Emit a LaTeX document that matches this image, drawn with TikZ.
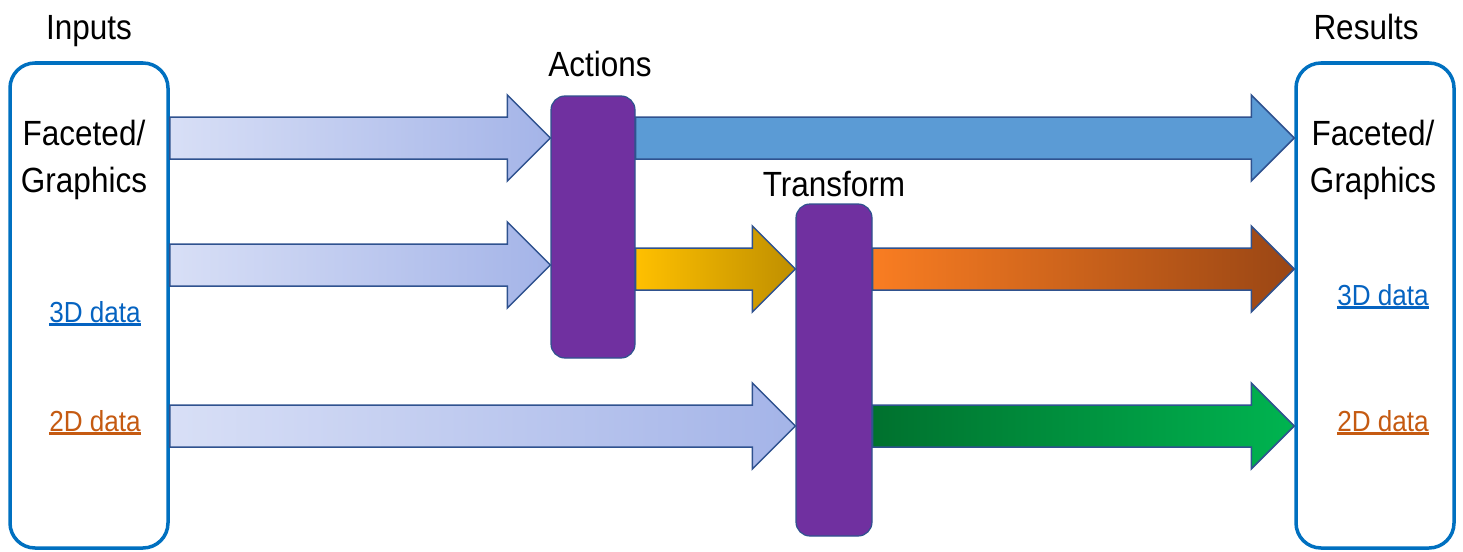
\documentclass[tikz,border=0pt]{standalone}
\usepackage{fontspec}
\setmainfont{Liberation Sans}[FakeStretch=0.9]
\usepackage{tikz}
\usetikzlibrary{positioning,calc}

\definecolor{boxblue}{HTML}{0070C0}
\definecolor{edgeblue}{HTML}{2F528F}
\definecolor{purp}{HTML}{7030A0}
\definecolor{linkblue}{HTML}{0563C1}
\definecolor{linkorange}{HTML}{C55A11}
\definecolor{inlight}{HTML}{D8DFF6}
\definecolor{indark}{HTML}{A4B4E8}
\definecolor{skyblue}{HTML}{5B9BD5}
\definecolor{goldl}{HTML}{FFC000}
\definecolor{goldd}{HTML}{BF8F00}
\definecolor{orl}{HTML}{F97D22}
\definecolor{ord}{HTML}{9A4614}
\definecolor{grl}{HTML}{00712E}
\definecolor{grd}{HTML}{00B450}

\newcommand{\ulink}[1]{\setbox0\hbox{#1}\rlap{\rule[-3.5pt]{\wd0}{2.4pt}}\box0}
\newcommand{\fatarrow}[3]{%
  \path[#1] let \p1=#2, \p2=#3 in
    (\x1,\y1+21pt) -- (\x2-43pt,\y1+21pt) -- (\x2-43pt,\y1+43pt) -- (\x2,\y1)
    -- (\x2-43pt,\y1-43pt) -- (\x2-43pt,\y1-21pt) -- (\x1,\y1-21pt) -- cycle;}

\begin{document}
\begin{tikzpicture}[x=1pt,y=1pt,
  cont/.style={draw=boxblue,line width=3.5pt,rounded corners=25pt,fill=white,
    minimum width=158pt,minimum height=485pt},
  stage/.style={draw=edgeblue,line width=1.2pt,fill=purp,rounded corners=14pt},
  lbl/.style={font=\fontsize{35}{47}\selectfont,inner sep=0pt,align=center},
  dat/.style={font=\fontsize{29}{34}\selectfont,inner sep=0pt},
  fatarr/.style={draw=edgeblue,line width=1.5pt},
  inarr/.style={fatarr,left color=inlight,right color=indark},
  bluearr/.style={fatarr,fill=skyblue},
  goldarr/.style={fatarr,left color=goldl,right color=goldd},
  orarr/.style={fatarr,left color=orl,right color=ord},
  grarr/.style={fatarr,left color=grl,right color=grd}]
  \useasboundingbox (0,0) rectangle (1463,-551);

  % containers
  \node[cont] (inbox) at (89,-305.5) {};
  \node[cont] (outbox) at (1375,-305.5) {};
  \node[lbl] (inputs) [above=14pt of inbox] {Inputs};
  \node[lbl] (results) [above=21pt of outbox,xshift=-9pt] {Results};

  \node[lbl,anchor=north] (infg) at (84,-120) {Faceted/\\Graphics};
  \node[dat,anchor=base,text=linkblue] (in3d) at (95,-322) {\ulink{3D data}};
  \node[dat,anchor=base,text=linkorange] (in2d) at (95,-431) {\ulink{2D data}};

  \node[lbl,anchor=north] (outfg) at (1373,-120) {Faceted/\\Graphics};
  \node[dat,anchor=base,text=linkblue] (out3d) at (1383,-305) {\ulink{3D data}};
  \node[dat,anchor=base,text=linkorange] (out2d) at (1383,-431) {\ulink{2D data}};

  % stages
  \node[stage,minimum width=84pt,minimum height=262pt] (act) at (593,-227) {};
  \node[stage,minimum width=76pt,minimum height=332pt] (tr) at (834,-370) {};
  \node[lbl] (actions) [above=18pt of act,xshift=7pt] {Actions};
  \node[lbl] (transform) [above=6pt of tr] {Transform};

  % rows
  \coordinate (r1) at (0,-138);
  \coordinate (r2) at (0,-265);
  \coordinate (r2b) at (0,-269);
  \coordinate (r3) at (0,-426);

  \fatarrow{inarr}{(inbox.east |- r1)}{(act.west |- r1)}
  \fatarrow{inarr}{(inbox.east |- r2)}{(act.west |- r2)}
  \fatarrow{inarr}{(inbox.east |- r3)}{(tr.west |- r3)}
  \fatarrow{bluearr}{(act.east |- r1)}{(outbox.west |- r1)}
  \fatarrow{goldarr}{(act.east |- r2b)}{(tr.west |- r2b)}
  \fatarrow{orarr}{(tr.east |- r2b)}{(outbox.west |- r2b)}
  \fatarrow{grarr}{(tr.east |- r3)}{(outbox.west |- r3)}
\end{tikzpicture}
\end{document}
